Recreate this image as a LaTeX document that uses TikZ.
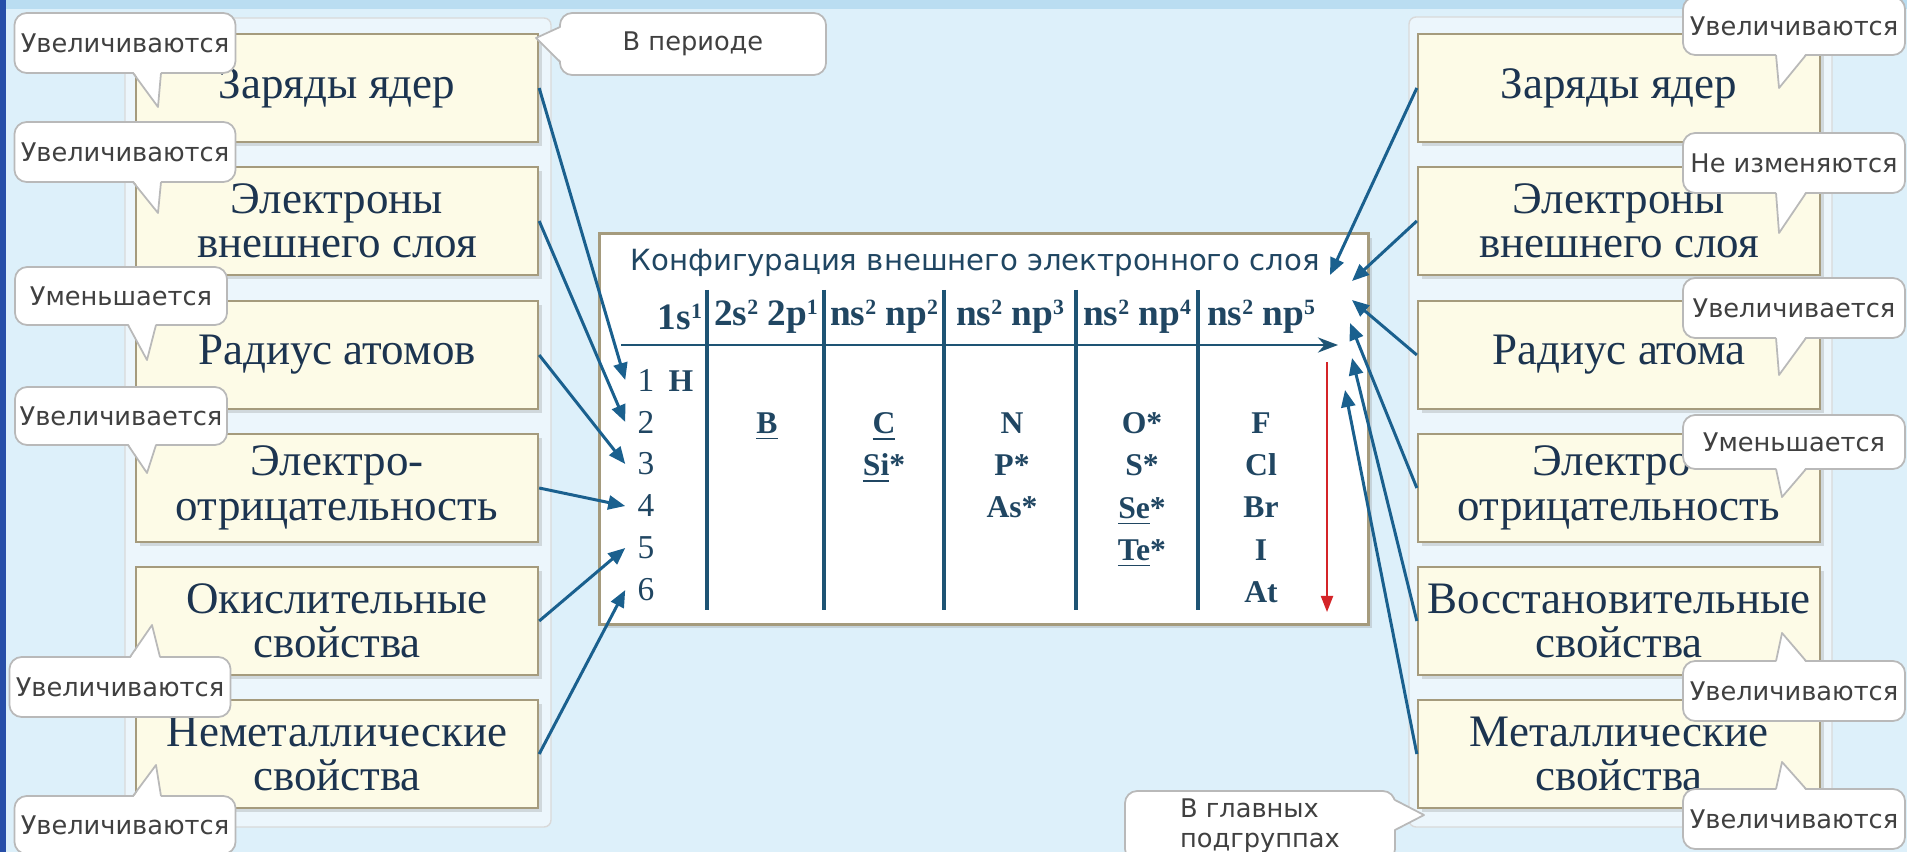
\documentclass[tikz,border=0pt]{standalone}
\usepackage{fontspec}
\setmainfont{Liberation Serif}
\newfontfamily\notefont{DejaVu Sans}
\usepackage{xcolor}
\usepackage{tikz}
\usetikzlibrary{arrows.meta,shadows}

\definecolor{bgblue}{RGB}{221,240,250}
\definecolor{stripblue}{RGB}{186,221,241}
\definecolor{edgeblue}{RGB}{38,78,168}
\definecolor{cream}{RGB}{253,251,231}
\definecolor{creamline}{RGB}{165,155,125}
\definecolor{navytext}{RGB}{28,52,80}
\definecolor{arrowblue}{RGB}{26,96,142}
\definecolor{tabline}{RGB}{30,84,116}
\definecolor{tabtext}{RGB}{32,70,98}
\definecolor{downred}{RGB}{212,36,40}

\newcommand\esup[1]{\raisebox{0.62ex}{\fontsize{6.2}{6.2}\selectfont #1}}

\begin{document}
\begin{tikzpicture}[
    x=0.01cm, y=-0.01cm,
    prop/.style={draw=creamline, fill=cream, line width=0.6pt, align=center,
                 minimum width=4.02cm, minimum height=1.08cm, inner sep=0pt,
                 text=navytext, font=\fontsize{12.8}{12.6}\selectfont,
                 drop shadow={shadow xshift=0.4mm, shadow yshift=-0.4mm, opacity=0.25}},
    panel/.style={draw=gray!30, fill=white, fill opacity=0.45, rounded corners=2pt},
    note/.style={draw=gray!55, fill=white, rounded corners=3.5pt, line width=0.5pt,
                 minimum width=2.21cm, minimum height=0.6cm, inner sep=0pt, align=center,
                 text=black!75, font=\notefont\fontsize{7.3}{8.6}\selectfont},
    tailfill/.style={fill=white},
    tailedge/.style={draw=gray!55, line width=0.5pt, line join=round},
    arr/.style={-{Triangle[length=1.7mm,width=1.4mm]}, line width=0.85pt, arrowblue},
    axisarr/.style={-{Stealth[length=2mm,width=1.5mm]}, line width=0.85pt, tabline},
    downarr/.style={-{Triangle[length=1.6mm,width=1.2mm]}, line width=0.6pt, downred},
    tab/.style={draw=creamline, fill=white, line width=0.8pt, inner sep=0pt,
                minimum width=7.68cm, minimum height=3.9cm,
                drop shadow={shadow xshift=0.4mm, shadow yshift=-0.4mm, opacity=0.25}},
    tabhead/.style={text=tabtext, font=\notefont\fontsize{8.3}{10}\selectfont},
    cfg/.style={text=tabtext, font=\bfseries\fontsize{10.6}{12}\selectfont},
    elem/.style={text=tabtext, font=\bfseries\fontsize{9}{12}\selectfont, align=center,
                 anchor=north, inner sep=0pt},
    rownum/.style={text=tabtext, font=\fontsize{9.5}{12}\selectfont},
    sep/.style={tabline, line width=0.9pt}
]

% ---------- background ----------
\fill[bgblue] (0,0) rectangle (1907,852);
\fill[stripblue] (0,0) rectangle (1907,9);
\fill[edgeblue] (0,0) rectangle (6,852);
\useasboundingbox (0,0) rectangle (1907,852);

\path[panel] (125,18) rectangle (551,827);
\path[panel] (1409,17) rectangle (1832,827);

% ---------- left column ----------
\node[prop] (lz) at (337,88)  {Заряды ядер};
\node[prop] (le) at (337,221) {Электроны\\внешнего слоя};
\node[prop] (lr) at (337,355) {Радиус атомов};
\node[prop] (ln) at (337,488) {Электро-\\отрицательность};
\node[prop] (lo) at (337,621) {Окислительные\\свойства};
\node[prop] (lm) at (337,754) {Неметаллические\\свойства};

% ---------- right column ----------
\node[prop] (rz) at (1619,88)  {Заряды ядер};
\node[prop] (re) at (1619,221) {Электроны\\внешнего слоя};
\node[prop] (rr) at (1619,355) {Радиус атома};
\node[prop] (rn) at (1619,488) {Электро-\\отрицательность};
\node[prop] (rv) at (1619,621) {Восстановительные\\свойства};
\node[prop] (rm) at (1619,754) {Металлические\\свойства};

% ---------- table ----------
\node[tab] (conf) at (984,429) {};
\node[tabhead] (head) at (975,263) {Конфигурация внешнего электронного слоя};

\node[cfg] (c1) at (680,317)  {1s\esup{1}};
\node[cfg] (c2) at (766,317)  {2s\esup{2} 2p\esup{1}};
\node[cfg] (c3) at (884,317)  {ns\esup{2} np\esup{2}};
\node[cfg] (c4) at (1010,317) {ns\esup{2} np\esup{3}};
\node[cfg] (c5) at (1137,317) {ns\esup{2} np\esup{4}};
\node[cfg] (c6) at (1261,317) {ns\esup{2} np\esup{5}};

\foreach \sx in {707,824,944,1076,1198}
  \draw[sep] (\sx,290) -- (\sx,610);

\coordinate (ax0) at (621,345);
\coordinate (ax1) at (1338,345);
\draw[axisarr] (ax0) -- (ax1);

\foreach \i in {1,...,6}
  \node[rownum] (r\i) at (646,338+42*\i) {\i};

\node[elem] (hyd)  at (681,370)  {H};
\node[elem] (col2) at (767,412)  {\underline{B}};
\node[elem] (col3) at (884,412)  {\underline{C}\\\underline{Si}*};
\node[elem] (col4) at (1012,412) {N\\P*\\As*};
\node[elem] (col5) at (1142,412) {O*\\S*\\\underline{Se}*\\\underline{Te}*};
\node[elem] (col6) at (1261,412) {F\\Cl\\Br\\I\\At};

\coordinate (dn0) at (1327,362);
\coordinate (dn1) at (1327,612);
\draw[downarr] (dn0) -- (dn1);

% ---------- arrows ----------
\draw[arr] (lz.east) -- (r1.west);
\draw[arr] (le.east) -- (r2.west);
\draw[arr] (lr.east) -- (r3.west);
\draw[arr] (ln.east) -- (r4.west);
\draw[arr] (lo.east) -- (r5.west);
\draw[arr] (lm.east) -- (r6.west);

\coordinate (t1) at (1330,275);
\coordinate (t2) at (1352,281);
\coordinate (t3) at (1352,300);
\coordinate (t4) at (1350,323);
\coordinate (t5) at (1352,358);
\coordinate (t6) at (1345,390);
\draw[arr] (rz.west) -- (t1);
\draw[arr] (re.west) -- (t2);
\draw[arr] (rr.west) -- (t3);
\draw[arr] (rn.west) -- (t4);
\draw[arr] (rv.west) -- (t5);
\draw[arr] (rm.west) -- (t6);

% ---------- callouts, left ----------
\node[note] (nl1) at (125,43) {Увеличиваются};
\fill[tailfill] (133,71) -- (158,107) -- (161,71) -- cycle;
\draw[tailedge] (133,73) -- (158,107) -- (161,73);

\node[note] (nl2) at (125,152) {Увеличиваются};
\fill[tailfill] (133,180) -- (158,213) -- (161,180) -- cycle;
\draw[tailedge] (133,182) -- (158,213) -- (161,182);

\node[note, minimum width=2.12cm, minimum height=0.58cm] (nl3) at (121,296) {Уменьшается};
\fill[tailfill] (128,323) -- (147,360) -- (156,323) -- cycle;
\draw[tailedge] (128,325) -- (147,360) -- (156,325);

\node[note, minimum width=2.12cm, minimum height=0.58cm] (nl4) at (121,416) {Увеличивается};
\fill[tailfill] (128,443) -- (147,473) -- (156,443) -- cycle;
\draw[tailedge] (128,445) -- (147,473) -- (156,445);

\node[note] (nl5) at (120,687) {Увеличиваются};
\fill[tailfill] (130,659) -- (152,625) -- (160,659) -- cycle;
\draw[tailedge] (130,657) -- (152,625) -- (160,657);

\node[note, minimum height=0.58cm] (nl6) at (125,825) {Увеличиваются};
\fill[tailfill] (133,798) -- (156,765) -- (161,798) -- cycle;
\draw[tailedge] (133,796) -- (156,765) -- (161,796);

\node[note, minimum width=2.66cm, minimum height=0.62cm] (nper) at (693,44) {В периоде};
\fill[tailfill] (562,27) -- (536,38) -- (562,62) -- cycle;
\draw[tailedge] (560,27) -- (536,38) -- (560,62);

% ---------- callouts, right ----------
\node[note, minimum width=2.22cm, minimum height=0.58cm] (nr1) at (1794,26) {Увеличиваются};
\fill[tailfill] (1776,53) -- (1779,88) -- (1806,53) -- cycle;
\draw[tailedge] (1776,55) -- (1779,88) -- (1806,55);

\node[note, minimum width=2.22cm] (nr2) at (1794,163) {Не изменяются};
\fill[tailfill] (1776,191) -- (1779,233) -- (1806,191) -- cycle;
\draw[tailedge] (1776,193) -- (1779,233) -- (1806,193);

\node[note, minimum width=2.22cm] (nr3) at (1794,308) {Увеличивается};
\fill[tailfill] (1776,336) -- (1779,375) -- (1806,336) -- cycle;
\draw[tailedge] (1776,338) -- (1779,375) -- (1806,338);

\node[note, minimum width=2.22cm, minimum height=0.54cm] (nr4) at (1794,442) {Уменьшается};
\fill[tailfill] (1776,467) -- (1782,497) -- (1806,467) -- cycle;
\draw[tailedge] (1776,469) -- (1782,497) -- (1806,469);

\node[note, minimum width=2.22cm] (nr5) at (1794,691) {Увеличиваются};
\fill[tailfill] (1776,663) -- (1782,633) -- (1806,663) -- cycle;
\draw[tailedge] (1776,661) -- (1782,633) -- (1806,661);

\node[note, minimum width=2.22cm] (nr6) at (1794,819) {Увеличиваются};
\fill[tailfill] (1776,791) -- (1782,762) -- (1806,791) -- cycle;
\draw[tailedge] (1776,789) -- (1782,762) -- (1806,789);

\node[note, minimum width=2.7cm, minimum height=0.7cm, align=left] (ngr) at (1260,826) {В главных\\подгруппах};
\fill[tailfill] (1393,800) -- (1424,815) -- (1393,830) -- cycle;
\draw[tailedge] (1395,800) -- (1424,815) -- (1395,830);

\end{tikzpicture}
\end{document}
